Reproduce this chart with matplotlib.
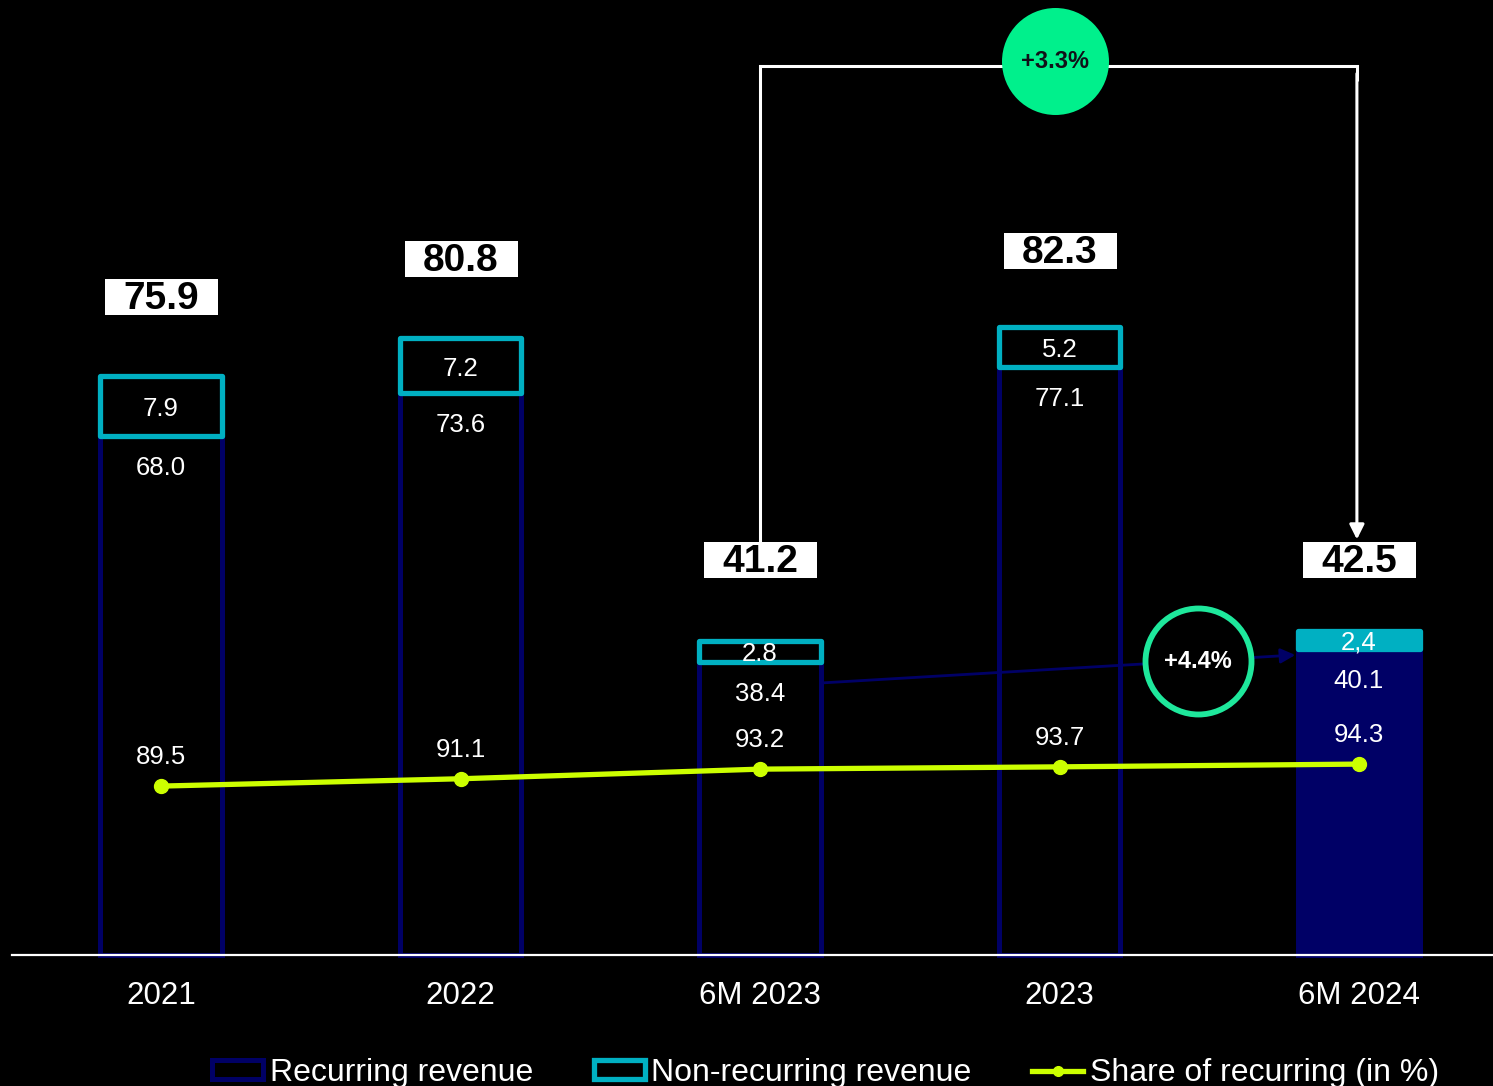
import matplotlib as mpl, matplotlib.pyplot as plt, numpy as np
from matplotlib.patches import Patch
from matplotlib.lines import Line2D

plt.rc('font', family=['Liberation Sans', 'DejaVu Sans'])

# Revenue split (in EUR m) and share of recurring revenue (in %)
periods = ['2021', '2022', '6M 2023', '2023', '6M 2024']
recurring = [68.0, 73.6, 38.4, 77.1, 40.1]
non_recurring = [7.9, 7.2, 2.8, 5.2, 2.4]
non_recurring_labels = ['7.9', '7.2', '2.8', '5.2', '2,4']
totals = [75.9, 80.8, 41.2, 82.3, 42.5]
share_recurring = [89.5, 91.1, 93.2, 93.7, 94.3]
growth_half_year = '+3.3%'
growth_recurring = '+4.4%'

# Colours
NAVY = '#000066'
TEAL = '#00B0C2'
LIME = '#CCFF00'
GREEN = '#00F08C'
RING = '#1EE89C'

W, H, DPI = 1493, 1086, 100
fig = plt.figure(figsize=(W / DPI, H / DPI), dpi=DPI, facecolor='black')
ax = fig.add_axes([0, 0, 1, 1])
ax.set_facecolor('black')
ax.axis('off')

# pixel geometry of the bar axis
PX_UNIT, BASE = 7.63, 955
X0, DX = 161, 299.5
ax.set_xlim(-X0 / DX, (W - X0) / DX)
ax.set_ylim(-(H - BASE) / PX_UNIT, BASE / PX_UNIT)

x = np.arange(len(periods))
bw = 0.405
last = len(periods) - 1

# recurring bars: outlined, last one filled
rec_fc = ['black'] * last + [NAVY]
ax.bar(x, recurring, bw, color=rec_fc, edgecolor=NAVY, linewidth=3.6, zorder=2)
nr_fc = ['black'] * last + [TEAL]
ax.bar(x, non_recurring, bw, bottom=recurring, color=nr_fc, edgecolor=TEAL,
       linewidth=3.8, joinstyle='round', zorder=3)

ax.axhline(0, xmin=12 / W, xmax=1, color='white', lw=1.6, zorder=4)

for i in x:
    ax.annotate(periods[i], (i, 0), xytext=(0, -41), textcoords='offset pixels',
                ha='center', va='center', color='white', fontsize=22.5)
    ax.annotate(f'{recurring[i]:.1f}', (i, recurring[i]), xytext=(0, -32),
                textcoords='offset pixels', ha='center', va='center',
                color='white', fontsize=18.5, zorder=6)
    ax.annotate(non_recurring_labels[i], (i, recurring[i] + non_recurring[i] / 2),
                xytext=(0, -3), textcoords='offset pixels',
                ha='center', va='center', color='white', fontsize=18.5, zorder=6)

# total labels in white boxes, lifted above each bar
gap_px = np.array([79, 79, 81, 76, 71])
box = [(-56.5, -18), (56.5, -18), (56.5, 18), (-56.5, 18), (-56.5, -18)]
tot_y = np.array(totals) + gap_px / PX_UNIT
ax.scatter(x, tot_y, s=(113 * 72 / DPI) ** 2, marker=box, color='white',
           linewidths=0, zorder=5)
for i in x:
    ax.annotate(f'{totals[i]:.1f}', (i, tot_y[i]), xytext=(0, -2),
                textcoords='offset pixels', ha='center', va='center',
                color='black', fontsize=28, fontweight='bold', zorder=6)

# half-year growth bracket
box_top = tot_y + 18 / PX_UNIT
BRACKET_Y = (BASE - 66) / PX_UNIT
right_x = 3.993
ax.plot([2, 2, right_x, right_x], [box_top[2], BRACKET_Y, BRACKET_Y, BRACKET_Y - 2],
        color='white', lw=2.2, solid_joinstyle='miter', solid_capstyle='butt',
        zorder=4)
ax.annotate('', xy=(right_x, box_top[4] + 0.3), xytext=(right_x, BRACKET_Y - 1),
            arrowprops=dict(arrowstyle='-|>', color='white', lw=2.2,
                            mutation_scale=22, shrinkA=0, shrinkB=0), zorder=4)
c1x = (1055 - X0) / DX
c1y = (BASE - 61) / PX_UNIT
ax.scatter([c1x], [c1y], s=(107 * 72 / DPI) ** 2, color=GREEN,
           linewidths=0, zorder=5)
ax.text(c1x, c1y, growth_half_year, ha='center', va='center',
        color='#101018', fontsize=17, fontweight='bold', zorder=6)

# recurring growth arrow
y_start, y_end = (BASE - 683) / PX_UNIT, (BASE - 655) / PX_UNIT
ax.annotate('', xy=(4 - bw / 2 - 0.01, y_end), xytext=(2 + bw / 2, y_start),
            arrowprops=dict(arrowstyle='-|>', color=NAVY, lw=2.0,
                            mutation_scale=22, shrinkA=0, shrinkB=0), zorder=4)
cx = (1198 - X0) / DX
cy = (BASE - 661) / PX_UNIT
ax.scatter([cx], [cy], s=(106 * 72 / DPI) ** 2, facecolor='black', edgecolor=RING,
           linewidths=4.2, zorder=5)
ax.text(cx, cy, growth_recurring, ha='center', va='center', color='white',
        fontsize=17, fontweight='bold', zorder=6)

# share of recurring on its own scale
ax2 = ax.twinx()
ax2.axis('off')
SH_UNIT, SH_ZERO = 4.58, 1196
ax2.set_ylim((SH_ZERO - H) / SH_UNIT, SH_ZERO / SH_UNIT)
ax2.plot(x, share_recurring, color=LIME, lw=3.8, marker='o', markersize=10,
         zorder=5)
for i in x:
    ax2.annotate(f'{share_recurring[i]:.1f}', (i, share_recurring[i]),
                 xytext=(0, 29), textcoords='offset pixels', ha='center',
                 va='center', color='white', fontsize=18.5)

handles = [
    Patch(facecolor='black', edgecolor=NAVY, linewidth=3.6),
    Patch(facecolor='black', edgecolor=TEAL, linewidth=3.8),
    Line2D([], [], color=LIME, lw=3.8, marker='o', markersize=7),
]
fig.legend(handles, ['Recurring revenue', 'Non-recurring revenue',
                     'Share of recurring (in %)'],
           loc='center', bbox_to_anchor=(0.553, 0.012), ncol=3, frameon=False,
           fontsize=23, labelcolor='white', handlelength=1.6, handleheight=0.55,
           handletextpad=0.2, columnspacing=1.9)

fig.savefig('out.png', dpi=DPI, facecolor='black')
